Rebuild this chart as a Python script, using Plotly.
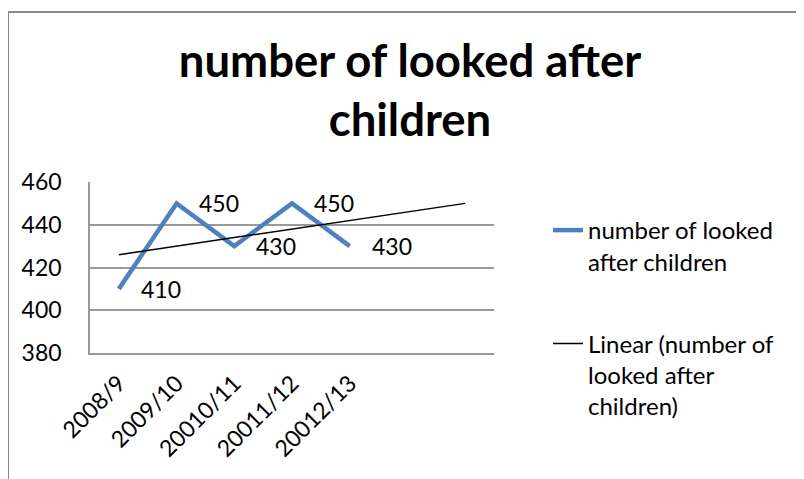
import numpy as np
import plotly.graph_objects as go

categories = ["2008/9", "2009/10", "20010/11", "20011/12", "20012/13"]
values = [410, 450, 430, 450, 430]
y_ticks = [380, 400, 420, 440, 460]
forecast_periods = 2
legend_names = ["number of looked<br>after children", "Linear (number of<br>looked after<br>children)"]

FONT = "Lato"
W, H = 804, 479
OFF = 8  # page body offset
L, R, T, B = 90 - OFF, 310 + OFF, 182 - OFF, 126 + OFF

pos = list(range(1, len(categories) + 1))
slope, intercept = np.polyfit(pos, values, 1)
trend_x = [pos[0], pos[-1] + forecast_periods]
trend_y = [slope * x + intercept for x in trend_x]

fig = go.Figure()
fig.add_trace(go.Scatter(
    x=pos, y=values, mode="lines", name=legend_names[0],
    line=dict(color="#4F81BD", width=4.5), legendgroup="a",
))
fig.add_trace(go.Scatter(
    x=trend_x, y=trend_y, mode="lines", name=legend_names[1],
    line=dict(color="black", width=1.5), legendgroup="b",
))

for x, v in zip(pos, values):
    fig.add_annotation(x=x, y=v, text=str(v), showarrow=False, xanchor="left",
                       xshift=20, font=dict(family=FONT, size=23, color="black"))

pw = W - L - R
ph = H - T - B
def px_x(p):
    return (p - OFF - L) / pw
def px_y(p):
    return (H - B - (p - OFF)) / ph

fig.add_shape(type="rect", xref="paper", yref="paper",
              x0=px_x(8), x1=px_x(830), y0=px_y(500), y1=px_y(12),
              line=dict(color="#888888", width=2), fillcolor="rgba(0,0,0,0)", layer="below")

fig.update_layout(
    width=W, height=H,
    margin=dict(l=L, r=R, t=T, b=B),
    paper_bgcolor="white", plot_bgcolor="white",
    font=dict(family=FONT, size=23, color="black"),
    title=dict(text="<b>number of looked after<br>children</b>", x=(410 - OFF) / W, xanchor="center",
               xref="container", yref="container", y=1 - 69 / H, yanchor="top",
               font=dict(family=FONT, size=45.5, color="black")),
    legend=dict(x=px_x(548), y=px_y(212 - 4), xanchor="left", yanchor="top",
                font=dict(family=FONT, size=24, color="black"),
                traceorder="grouped", tracegroupgap=48, valign="top",
                bgcolor="rgba(0,0,0,0)", maxheight=400),
    showlegend=True,
)
fig.update_xaxes(range=[0.5, len(categories) + 2.5], tickvals=pos, ticktext=categories,
                 tickangle=-45, showgrid=False, showline=True, linecolor="#9a9a9a", linewidth=1.5,
                 ticks="outside", ticklen=6, tickcolor="rgba(0,0,0,0)",
                 tickfont=dict(family=FONT, size=23), zeroline=False)
fig.update_yaxes(range=[y_ticks[0], y_ticks[-1]], tickvals=y_ticks, showgrid=True,
                 gridcolor="#9a9a9a", gridwidth=1.5, showline=True, linecolor="#9a9a9a", linewidth=1.5,
                 ticks="outside", ticklen=22, tickcolor="rgba(0,0,0,0)",
                 tickfont=dict(family=FONT, size=23), zeroline=False)

fig.write_html("out.html")
